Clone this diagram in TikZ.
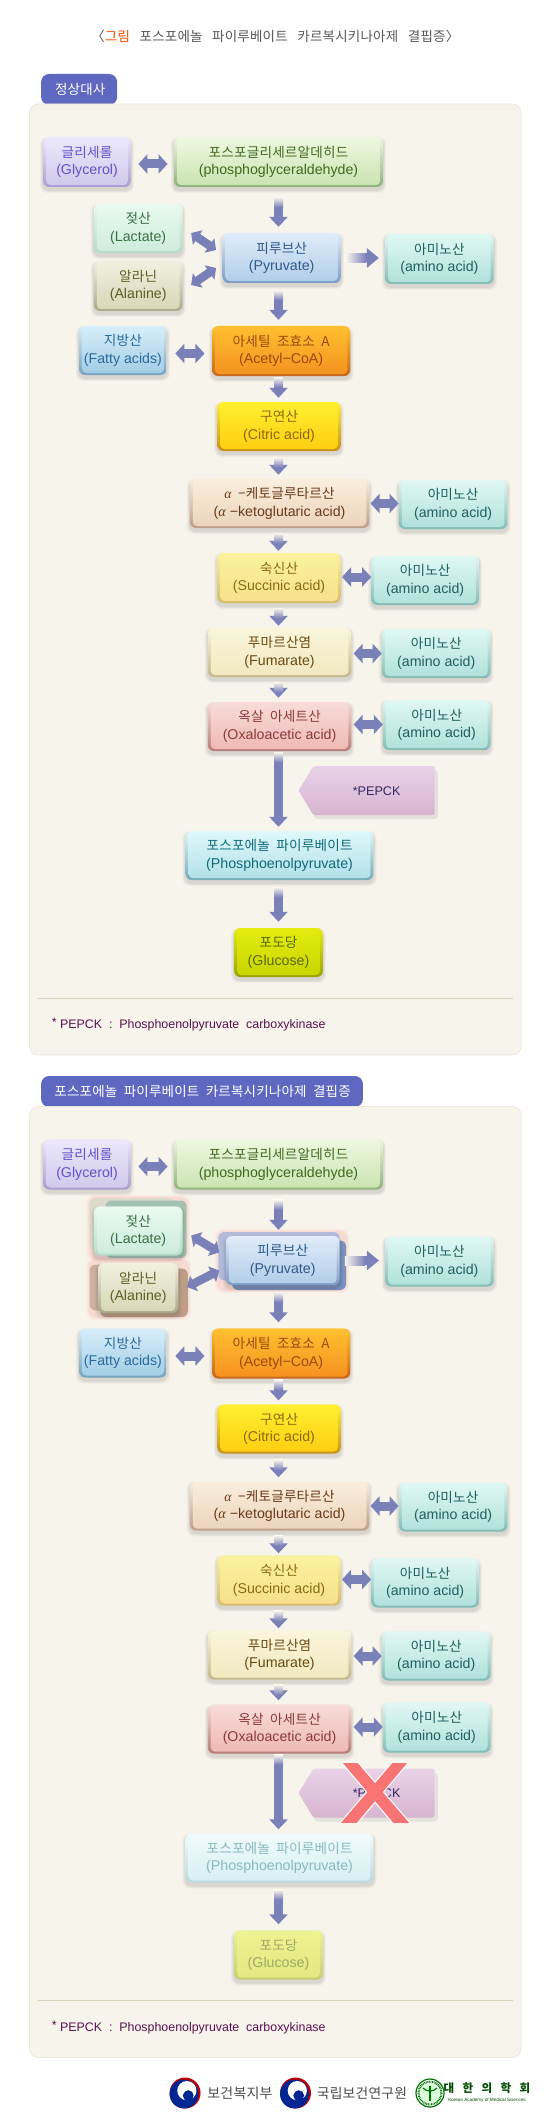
\documentclass[tikz,border=0pt]{standalone}
\usepackage{fontspec}
\setmainfont{Liberation Sans}
\newfontfamily\kr[LetterSpace=1.5]{Noto Sans CJK KR}
\newfontfamily\gr{Liberation Serif}
\usetikzlibrary{calc,arrows.meta}
\newcommand\al{{\gr\itshape α}}
\definecolor{panelc}{HTML}{F7F4EC}
\definecolor{panele}{HTML}{ECE8DE}
\definecolor{tabc}{HTML}{5F68C0}
\definecolor{flowc}{HTML}{7A80B8}
\definecolor{rulec}{HTML}{D9D2BC}
\definecolor{xred}{HTML}{F87474}
\definecolor{halo}{HTML}{F8B8B0}
\definecolor{tagtop}{HTML}{E8D2E8}
\definecolor{tagbot}{HTML}{D8B4D0}
\definecolor{footc}{HTML}{5A1050}
\definecolor{glya}{HTML}{ECE8FC}\definecolor{glyb}{HTML}{CFC8EA}\definecolor{glyc}{HTML}{A79FCF}\definecolor{glyt}{HTML}{6450C8}
\definecolor{phoa}{HTML}{EEF8E0}\definecolor{phob}{HTML}{C8E3B0}\definecolor{phoc}{HTML}{8FB27A}\definecolor{phot}{HTML}{3F6A1E}
\definecolor{laca}{HTML}{EAFAF0}\definecolor{lacb}{HTML}{CDEBDC}\definecolor{lacc}{HTML}{B4DCC8}\definecolor{lact}{HTML}{3A7040}
\definecolor{alaa}{HTML}{F0F0E0}\definecolor{alab}{HTML}{D6D6B6}\definecolor{alac}{HTML}{A9A98A}\definecolor{alat}{HTML}{5E5E20}
\definecolor{pyra}{HTML}{E0ECFA}\definecolor{pyrb}{HTML}{B0CCE8}\definecolor{pyrc}{HTML}{7C9CC4}\definecolor{pyrt}{HTML}{2F5A8A}
\definecolor{amia}{HTML}{E0F8F4}\definecolor{amib}{HTML}{B0E0DA}\definecolor{amic}{HTML}{80BDB5}\definecolor{amit}{HTML}{1F6060}
\definecolor{fata}{HTML}{D8EEFA}\definecolor{fatb}{HTML}{A0CCE4}\definecolor{fatc}{HTML}{74A4C0}\definecolor{fatt}{HTML}{2A6A9A}
\definecolor{acea}{HTML}{FFC030}\definecolor{aceb}{HTML}{F59020}\definecolor{acec}{HTML}{C8661A}\definecolor{acet}{HTML}{9A4A10}
\definecolor{cita}{HTML}{FFF030}\definecolor{citb}{HTML}{FFCC10}\definecolor{citc}{HTML}{C8901A}\definecolor{citt}{HTML}{8A6A10}
\definecolor{keta}{HTML}{FAEEDC}\definecolor{ketb}{HTML}{EBD3BC}\definecolor{ketc}{HTML}{BD9D88}\definecolor{kett}{HTML}{6A3A1A}
\definecolor{suca}{HTML}{FBF29E}\definecolor{sucb}{HTML}{F6DF8A}\definecolor{succ}{HTML}{D4BC6C}\definecolor{suct}{HTML}{8A6A10}
\definecolor{fuma}{HTML}{FAF6DC}\definecolor{fumb}{HTML}{F1E8C0}\definecolor{fumc}{HTML}{C4B88A}\definecolor{fumt}{HTML}{6A4A10}
\definecolor{oxaa}{HTML}{F8DCD8}\definecolor{oxab}{HTML}{EEB8B4}\definecolor{oxac}{HTML}{B87A78}\definecolor{oxat}{HTML}{8A3A3A}
\definecolor{pepa}{HTML}{E0F8FA}\definecolor{pepb}{HTML}{B0E0E8}\definecolor{pepc}{HTML}{74ACB8}\definecolor{pept}{HTML}{0F6A7A}
\definecolor{glua}{HTML}{E4EC10}\definecolor{glub}{HTML}{C8D400}\definecolor{gluc}{HTML}{9AA400}\definecolor{glut}{HTML}{5A6A00}
\definecolor{fpepa}{HTML}{F0FBFC}\definecolor{fpepb}{HTML}{D6EFF2}\definecolor{fpepc}{HTML}{BCD9DE}\definecolor{fpept}{HTML}{88B8C0}
\definecolor{fglua}{HTML}{EEF290}\definecolor{fglub}{HTML}{E2E880}\definecolor{fgluc}{HTML}{C8CE70}\definecolor{fglut}{HTML}{A0A868}
\tikzset{
  boxnode/.style={rectangle,inner sep=0pt,rounded corners=6pt,align=center,
    font=\fontsize{14.2}{17.5}\selectfont},
  vflow/.style={draw=flowc,line width=9pt,-{Triangle[width=18pt,length=10pt]}},
  hflow/.style={draw=flowc,line width=9pt,-{Triangle[width=19pt,length=12pt]}},
  dflow/.style={draw=flowc,line width=9pt,{Triangle[width=19pt,length=9pt]}-{Triangle[width=19pt,length=9pt]}},
  diagflow/.style={draw=flowc,line width=8.5pt,{Triangle[width=17pt,length=8pt]}-{Triangle[width=17pt,length=8pt]}},
}
% name x0 y0 x1 y1 colour-prefix korean english
\newcommand\bx[8]{%
  \foreach \e/\o in {3/.03,2/.04,1/.05}{
    \fill[black,opacity=\o,rounded corners=7pt] (#2-\e,#3+3-\e) rectangle (#4+\e,#5+3+\e);}
  \node[boxnode,text=#6t,top color=#6a,bottom color=#6c,
    minimum width={(#4-#2)*1.055pt},minimum height={(#5-#3)*1pt},
    path picture={\shade[top color=#6a,bottom color=#6b,rounded corners=4pt]
      ([xshift=3pt]path picture bounding box.north west) rectangle
      ([xshift=-3pt,yshift=2pt]path picture bounding box.south east);}]
    (#1) at ({(#2+#4)/2},{(#3+#5)/2}) {{\kr\fontsize{13.6}{17.5}\selectfont #7}\\#8};}
% vertical flow: from to gap-at-tail gap-at-head
\newcommand\vfl[5]{%
  \draw[vflow,shorten <=#4pt,shorten >=#5pt] (#2.south -| #1ax) -- (#3.north -| #1ax);
  \shade[top color=panelc,bottom color=flowc] ($(#2.south -| #1ax)+(-4.27,#4)$) rectangle ($(#2.south -| #1ax)+(4.27,#4+10)$);}
% double flow: from to dx1 dx2 dy
\newcommand\dfl[5]{\draw[dflow] ($(#1.east)+(#3,#5)$) -- ($(#1.east -| #2.west)+(-#4,#5)$);}
% glow behind a stacked box
\newcommand\hal[4]{%
  \foreach \e/\o in {3/.12,2/.15,1/.2}{
    \fill[halo,opacity=\o,rounded corners=8pt] (#1-\e,#2-\e) rectangle (#3+\e,#4+\e);}}
\newcommand\drawpanel[3]{%
 \begin{scope}[shift={(0,#2)}]
  \coordinate (#1ax) at (264,0);
  \node[boxnode,fill=panelc,draw=panele,line width=.8pt,rounded corners=9pt,
    minimum width={466*1.055pt},minimum height=951pt] (#1panel) at (261,579.5) {};
  \coordinate (#1rl) at (36,998);
  \draw[rulec,line width=.7pt] (#1rl) -- ($(#1rl -| #1panel.east)+(-8,0)$);
  \node[anchor=west,inner sep=0pt,font=\fontsize{12.4}{15}\selectfont,text=footc] (#1foot) at (49,1025)
    {\raisebox{2pt}{*} PEPCK~ : ~Phosphoenolpyruvate~ carboxykinase};
  \ifnum#3=1
    \hal{85}{195.5}{177}{255.5}
    \hal{85}{258}{178}{314.5}
    \hal{207}{229.5}{328}{287.5}
    \fill[alac!35!panelc,rounded corners=6pt] (85,195.5) rectangle (165,248);
    \fill[lacc!70!gray,rounded corners=6pt] (100,198) rectangle (177,255.5);
    \fill[ketc!80,rounded corners=6pt] (85,262) rectangle (165,308);
    \fill[ketc,rounded corners=6pt] (95,266) rectangle (178,314.5);
    \fill[pyrc!50!glyc!70!white,rounded corners=6pt] (207,229.5) rectangle (322,278);
    \fill[pyrc!60!flowc,rounded corners=6pt] (220,238) rectangle (328,287.5);
  \fi
  \bx{#1gly}{41}{137}{124}{187}{gly}{글리세롤}{(Glycerol)}
  \bx{#1pho}{165}{137}{363}{187}{pho}{포스포글리세르알데히드}{(phosphoglyceraldehyde)}
  \bx{#1lac}{89}{204}{173}{253}{lac}{젖산}{(Lactate)}
  \ifnum#3=1
    \bx{#1ala}{93}{260.5}{169}{310.5}{ala}{알라닌}{(Alanine)}
    \bx{#1pyr}{214}{233.5}{322}{282.5}{pyr}{피루브산}{(Pyruvate)}
  \else
    \bx{#1ala}{89}{261}{173}{311}{ala}{알라닌}{(Alanine)}
    \bx{#1pyr}{211}{233}{323}{283}{pyr}{피루브산}{(Pyruvate)}
  \fi
  \bx{#1ami}{365}{234}{468}{284}{ami}{아미노산}{(amino~acid)}
  \bx{#1fat}{75}{326}{158}{375}{fat}{지방산}{(Fatty~acids)}
  \bx{#1ace}{201}{326}{332}{376}{ace}{아세틸~~조효소~~A}{(Acetyl−CoA)}
  \bx{#1cit}{206}{402}{323}{451}{cit}{구연산}{(Citric~acid)}
  \bx{#1ket}{180}{479}{350}{528}{ket}{\al~~−케토글루타르산}{(\al~−ketoglutaric~acid)}
  \bx{#1amk}{378}{480}{481}{529}{ami}{아미노산}{(amino~acid)}
  \bx{#1suc}{206}{553}{323}{603}{suc}{숙신산}{(Succinic~acid)}
  \bx{#1ams}{352}{556}{454}{605}{ami}{아미노산}{(amino~acid)}
  \bx{#1fum}{197}{628}{333}{677}{fum}{푸마르산염}{(Fumarate)}
  \bx{#1amf}{362}{629}{465}{678}{ami}{아미노산}{(amino~acid)}
  \bx{#1oxa}{197}{702}{333}{751}{oxa}{옥살~~아세트산}{(Oxaloacetic~acid)}
  \bx{#1amo}{363}{700}{465}{750}{ami}{아미노산}{(amino~acid)}
  \ifnum#3=1
    \bx{#1pep}{176}{831}{354}{880}{fpep}{포스포에놀~~파이루베이트}{(Phosphoenolpyruvate)}
    \bx{#1glu}{222}{928}{306}{977}{fglu}{포도당}{(Glucose)}
  \else
    \bx{#1pep}{176}{831}{354}{880}{pep}{포스포에놀~~파이루베이트}{(Phosphoenolpyruvate)}
    \bx{#1glu}{222}{928}{306}{977}{glu}{포도당}{(Glucose)}
  \fi
  % enzyme tag
  \fill[black,opacity=.07,rounded corners=3pt] (285,794) -- (299,770) -- (415,770) -- (415,819) -- (299,819) -- cycle;
  \shade[top color=tagtop,bottom color=tagbot,rounded corners=2pt]
    (283,790.5) -- (297,766) -- (412,766) -- (412,815) -- (297,815) -- cycle;
  \node[inner sep=0pt,text=glyt!50!black,font=\fontsize{12.6}{15}\selectfont] (#1enz) at (357,791) {*PEPCK};
  \ifnum#3=1
    \filldraw[white,line width=2.4pt,line join=round] (325,760.5) -- (339,760.5) -- (388,820.5) -- (373,820.5) -- cycle;
    \filldraw[white,line width=2.4pt,line join=round] (372,760.5) -- (386,760.5) -- (338,820.5) -- (323,820.5) -- cycle;
    \fill[xred] (325,760.5) -- (339,760.5) -- (388,820.5) -- (373,820.5) -- cycle;
    \fill[xred] (372,760.5) -- (386,760.5) -- (338,820.5) -- (323,820.5) -- cycle;
  \fi
  % connectors
  \vfl{#1}{#1pho}{#1pyr}{10}{6}
  \vfl{#1}{#1pyr}{#1ace}{7}{6}
  \vfl{#1}{#1ace}{#1cit}{1}{4}
  \vfl{#1}{#1cit}{#1ket}{6}{4}
  \vfl{#1}{#1ket}{#1suc}{5}{2}
  \vfl{#1}{#1suc}{#1fum}{5}{2}
  \vfl{#1}{#1fum}{#1oxa}{5}{4}
  \vfl{#1}{#1oxa}{#1pep}{1}{4}
  \vfl{#1}{#1pep}{#1glu}{7}{6}
  \dfl{#1gly}{#1pho}{7}{6}{2}
  \dfl{#1fat}{#1ace}{8}{7}{3}
  \dfl{#1ket}{#1amk}{1}{0}{0}
  \dfl{#1suc}{#1ams}{1}{0}{-1}
  \dfl{#1fum}{#1amf}{2}{0}{1}
  \dfl{#1oxa}{#1amo}{2}{0}{-2}
  \draw[diagflow] ($(#1lac.east)+(8,4.5)$) -- ($(#1pyr.west)+(-6,-8)$);
  \draw[diagflow] ($(#1ala.east)+(8,-1)$) -- ($(#1pyr.west)+(-6,10)$);
  \draw[hflow,shorten <=5pt,shorten >=6pt] (#1pyr.east) -- (#1pyr.east -| #1ami.west);
  \shade[left color=panelc,right color=flowc] ($(#1pyr.east)+(4.8,-4.5)$) rectangle ($(#1pyr.east)+(24,4.5)$);
 \end{scope}}
\newcommand\taeg[1]{%
  \begin{scope}[shift={(#1,2093)},x=1pt,y=1pt]
    \fill[red!75!black] (0,0) circle (15.5);
    \fill[blue!50!black!85!cyan] (-1,-1) circle (14.4);
    \fill[white] (1.8,2.4) circle (9.6);
    \fill[blue!50!black!85!cyan] (3.2,-2.6) circle (5.4);
    \fill[white] (-3.5,2.5) circle (3.6);
  \end{scope}}
\begin{document}
\begin{tikzpicture}[x=1.055pt,y=-1pt]
  \useasboundingbox (0,0) rectangle (521.33,2124);
  \fill[white] (0,0) rectangle (521.33,2124);
  \node[inner sep=0pt,text=black!65,font=\kr\fontsize{13.5}{16}\selectfont] (title) at (261,36)
    {〈\textcolor{orange!60!red}{그림}~~~포스포에놀~~~파이루베이트~~~카르복시키나아제~~~결핍증〉};
  % tabs
  \fill[tabc,rounded corners=8pt] (39,105) -- (39,74) -- (111,74) -- (111,105) -- cycle;
  \node[inner sep=0pt,text=white,font=\kr\fontsize{13.5}{16}\selectfont] (tabone) at (76,89) {정상대사};
  \drawpanel{a}{0}{0}
  \fill[tabc,rounded corners=8pt] (39,1107) -- (39,1076) -- (344,1076) -- (344,1107) -- cycle;
  \node[inner sep=0pt,text=white,font=\kr\fontsize{13.5}{16}\selectfont] (tabtwo) at (192,1091) {포스포에놀~~파이루베이트~~카르복시키나아제~~결핍증};
  \drawpanel{b}{1002.5}{1}
  % logos
  \taeg{175.4}
  \taeg{280.1}
  \begin{scope}[x=1pt]
    \node[inner sep=0pt,text=black!70,font=\kr\fontsize{14}{16}\selectfont] (mohw) at (240,2093) {보건복지부};
    \node[inner sep=0pt,text=black!70,font=\kr\fontsize{13.8}{16}\selectfont] (nih) at (362,2093) {국립보건연구원};
    \draw[green!45!black,line width=1.2pt] (430,2093) circle (14);
    \draw[green!45!black,line width=2pt,dash pattern=on .8pt off .8pt] (430,2093) circle (11.5);
    \fill[green!15] (430,2093) circle (9.5);
    \draw[green!45!black,line width=1.2pt] (430,2086) -- (430,2101);
    \draw[green!45!black,line width=1.2pt] (423,2088) .. controls (426,2092) and (434,2092) .. (437,2088);
    \node[inner sep=0pt,text=green!30!black,font=\kr\bfseries\fontsize{11.5}{14}\selectfont] (kams) at (487,2088.5) {대~~~한~~~의~~~학~~~회};
    \node[inner sep=0pt,text=green!30!black,font=\fontsize{4.6}{6}\selectfont] (kamse) at (487,2100) {Korean Academy of Medical Sciences};
  \end{scope}
\end{tikzpicture}
\end{document}
